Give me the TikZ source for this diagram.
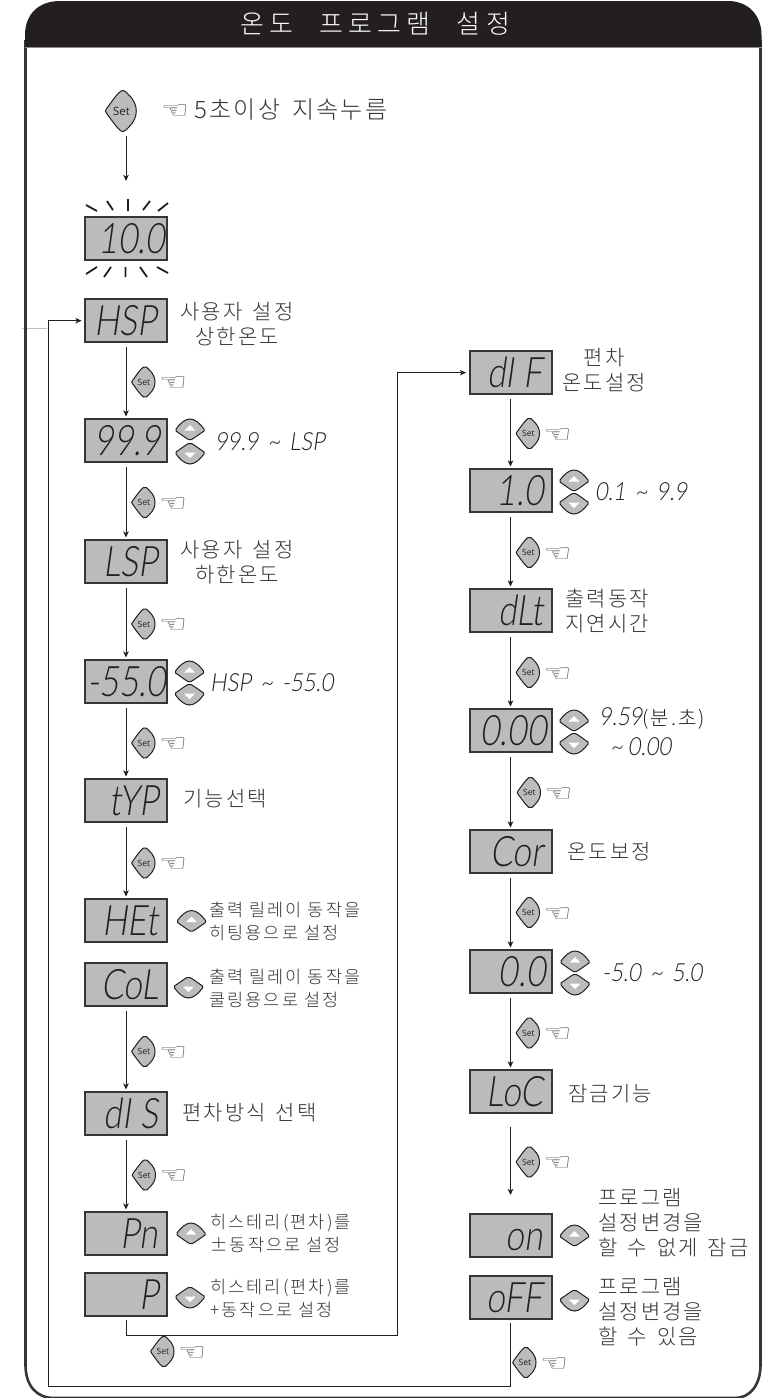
\documentclass[tikz,border=0pt]{standalone}
\usepackage{fontspec}
\usetikzlibrary{arrows.meta}
\newfontfamily\krf[LetterSpace=10,WordSpace=1.5]{Noto Sans CJK KR Light}
\newfontfamily\krs[LetterSpace=12,WordSpace=1]{Noto Sans CJK KR Light}
\newfontfamily\krt[LetterSpace=20,WordSpace=2.4]{Noto Sans CJK KR Light}
\newfontfamily\segf[FakeSlant=0.14,FakeStretch=0.8]{Lato Light}
\newfontfamily\valf[FakeSlant=0.14,FakeStretch=0.88]{Lato Light}
\newfontfamily\keyf{Open Sans}
\newfontfamily\handf[FakeStretch=1.3]{DejaVu Sans}
\definecolor{lcdgray}{HTML}{B9BBBD}
\definecolor{keygray}{HTML}{BBBCBE}
\definecolor{ink}{HTML}{231F20}
\definecolor{txt}{HTML}{333333}
\tikzset{
  line/.style={draw=ink,line width=0.8pt},
  arr/.style={line,-{Stealth[length=6pt,width=5.5pt,inset=1.5pt]}},
  flow/.style={arr,shorten <=4pt,shorten >=1.5pt},
  lcd/.style={draw=ink!90,line width=2pt,fill=lcdgray,minimum width=82pt,minimum height=43.5pt,inner sep=0pt,text=ink},
  lab/.style={text=txt,inner sep=0pt,align=center,font=\krf\fontsize{21}{25}\selectfont},
  labl/.style={lab,align=left,anchor=west},
  labs/.style={labl,font=\krs\fontsize{17.5}{23}\selectfont},
  val/.style={text=ink,inner sep=0pt,anchor=west,font=\valf\fontsize{25}{26}\selectfont},
  hand/.style={text=black!70,inner sep=0pt,font=\handf\fontsize{24}{24}\selectfont},
  ray/.style={draw=ink,line width=1.8pt},
  setkey/.pic={
    \draw[draw=ink,line width=1pt,fill=keygray]
      (-11,-1.5) .. controls (-7,-7) and (-3,-13) .. (0,-15)
      .. controls (2,-16.5) and (4,-14) .. (6,-12)
      .. controls (10,-8) and (11.5,-4) .. (11.5,0)
      .. controls (11.5,4) and (10,8) .. (6,12)
      .. controls (4,14) and (2,16.5) .. (0,15)
      .. controls (-3,13) and (-7,7) .. (-11,1.5)
      .. controls (-12,0.5) and (-12,-0.5) .. (-11,-1.5) -- cycle;
    \node[transform shape,inner sep=0pt,text=ink,font=\keyf\fontsize{8.6}{9}\selectfont] (-t) at (0.4,0) {Set};
  },
  udkey/.pic={
    \draw[draw=ink,line width=1pt,fill=keygray]
      (-14,-0.5) .. controls (-10,-6) and (-5,-10.5) .. (0,-10.5)
      .. controls (5,-10.5) and (10,-6) .. (14,-0.5)
      .. controls (14.8,0.5) and (14.5,1) .. (14,1.5)
      .. controls (9,5) and (5,8) .. (1.5,10)
      .. controls (0.5,10.7) and (-0.5,10.7) .. (-1.5,10)
      .. controls (-5,8) and (-9,5) .. (-14,1.5)
      .. controls (-14.5,1) and (-14.8,0.5) .. (-14,-0.5) -- cycle;
    \fill[white] (-5.5,1) -- (5.5,1) -- (0,-4.5) -- cycle;
  },
}
\newcommand{\SetK}[3]{\pic (#1) at (#2,#3) {setkey};\node[hand] (#1h) at (#2+29.5,#3+2) {☜};}
\newcommand{\UpK}[3]{\pic (#1) at (#2,#3) {udkey};}
\newcommand{\DnK}[3]{\pic[yscale=-1] (#1) at (#2,#3) {udkey};}
% name, left, top, text, right pad
\newcommand{\Lcd}[5]{\node[lcd] (#1) at (#2+42,#3+22.7) {\makebox[82pt][r]{\segf\fontsize{42}{42}\selectfont\rule{0pt}{30pt}#4\hspace{#5pt}}};}
\newcommand{\Tl}{\hspace{9pt}\textasciitilde\hspace{9pt}}
\begin{document}
\begin{tikzpicture}[x=1pt,y=-1pt]
\useasboundingbox (0,0) rectangle (772,1398);
\fill[white] (0,0) rectangle (772,1398);
% frame
\draw[draw=black!25,line width=0.8pt] (22,328) -- (47,328);
\draw[draw=ink!90,line width=2.6pt]
  (25.5,40) -- (25.5,1365) .. controls (25.5,1385) and (36,1398) .. (54,1398)
  -- (735,1398) .. controls (750,1398) and (760.5,1385) .. (760.5,1365) -- (760.5,40);
\fill[ink] (25,47) -- (25,35) .. controls (25,15) and (38,1) .. (60,1) -- (728,1)
  .. controls (748,1) and (761.5,15) .. (761.5,35) -- (761.5,47) -- cycle;
\draw[draw=black!45,line width=0.8pt] (25,47.3) -- (761.5,47.3);
\node[inner sep=0pt,text=white,font=\krt\fontsize{26}{26}\selectfont] (title) at (375,24) {온도 프로그램 설정};

% left column displays
\Lcd{d10}{84}{216}{10.0}{2}
\Lcd{hsp}{84}{298}{HSP}{10}
\Lcd{n99}{84}{418}{99.9}{6}
\Lcd{lsp}{84}{539}{LSP}{9}
\Lcd{n55}{84}{659}{-55.0}{1}
\Lcd{typ}{84}{778}{tYP}{8}
\Lcd{het}{84}{898}{HEt}{9}
\Lcd{col}{84}{962}{CoL}{8}
\Lcd{dis}{84}{1091}{dI S}{9}
\Lcd{pn}{84}{1211}{Pn}{9}
\Lcd{pp}{84}{1272}{P}{8}
% right column displays
\Lcd{dif}{468.5}{350}{dI F}{9}
\Lcd{n10}{468.5}{468}{1.0}{8}
\Lcd{dlt}{468.5}{588}{dLt}{8}
\Lcd{n00}{468.5}{708}{0.00}{5}
\Lcd{cor}{468.5}{829}{Cor}{8}
\Lcd{n0}{468.5}{949}{0.0}{6}
\Lcd{loc}{468.5}{1069}{LoC}{8}
\Lcd{on}{468.5}{1213}{on}{9}
\Lcd{off}{468.5}{1275}{oFF}{9}

% top key
\pic[scale=1.33] (s0) at (121,111) {setkey};
\node[hand] (s0h) at (175,112) {☜};
\node[labl,font=\krf\fontsize{24}{24}\selectfont] (t0) at (194,110) {5초이상 지속누름};

% blink rays
\draw[ray] (86,205)--(97,211) (107,201)--(113,210) (128,199)--(128,211) (150,201)--(143,210) (168,203)--(158,211);
\draw[ray] (86,274)--(97,267) (104,277)--(111,267) (125.5,277)--(125.5,267) (147,277)--(140,267) (168,273)--(157,267);

% set keys, left
\SetK{s1}{143.5}{382}
\SetK{s2}{143.5}{502.5}
\SetK{s3}{143.5}{624}
\SetK{s4}{143.5}{743}
\SetK{s5}{143.5}{863}
\SetK{s6}{143.5}{1051.5}
\SetK{s7}{144}{1175}
\SetK{s8}{162.5}{1351.5}
% set keys, right
\SetK{r1}{528}{433.5}
\SetK{r2}{528}{552.5}
\SetK{r3}{528}{672.5}
\SetK{r4}{529}{792.5}
\SetK{r5}{528}{912.5}
\SetK{r6}{528}{1033}
\SetK{r7}{528}{1162}
\SetK{r8}{524.5}{1362.5}

% up / down keys
\UpK{u1}{190}{429.5}\DnK{v1}{190}{453.5}
\UpK{u2}{189.5}{671.5}\DnK{v2}{189.5}{694.5}
\UpK{u3}{191.5}{921}
\DnK{v3}{188.5}{987.5}
\UpK{u4}{191}{1233.5}
\DnK{v4}{190}{1297.5}
\UpK{u5}{574}{480.5}\DnK{v5}{574}{503.5}
\UpK{u6}{574}{720.5}\DnK{v6}{574}{743.5}
\UpK{u7}{575}{961.5}\DnK{v7}{575}{984.5}
\UpK{u8}{574.5}{1235.5}
\DnK{v8}{574.5}{1300.5}

% connectors
\draw[arr,shorten <=21pt,shorten >=35pt] (d10.north |- s0-t.south) -- (d10.north);
\draw[flow] (hsp) -- (n99);
\draw[flow] (n99) -- (lsp);
\draw[flow] (lsp) -- (n55);
\draw[flow] (n55) -- (typ);
\draw[flow] (typ) -- (het);
\draw[flow] (col) -- (dis);
\draw[flow] (dis) -- (pn);
\draw[flow] (dif) -- (n10);
\draw[flow] (n10) -- (dlt);
\draw[flow] (dlt) -- (n00);
\draw[flow] (n00) -- (cor);
\draw[flow] (cor) -- (n0);
\draw[flow] (n0) -- (loc);
\draw[arr,shorten <=13pt,shorten >=18pt] (loc.south) -- (on.north);
\coordinate (b1) at (397.5,1335);
\coordinate (b2) at (48,1386);
\draw[arr,shorten <=3pt,shorten >=2.5pt] (pp.south) |- (b1) |- (dif.west);
\draw[arr,shorten <=3pt,shorten >=2.5pt] (off.south) |- (b2) |- (hsp.west);

% labels, left
\node[lab] (l1) at (237,324) {사용자 설정\\상한온도};
\node[lab] (l2) at (237,562.5) {사용자 설정\\하한온도};
\node[val] (v01) at (215,442) {99.9\Tl LSP};
\node[val] (v02) at (210,683) {HSP\Tl -55.0};
\node[labl] (l3) at (183,799) {기능선택};
\node[labs] (l4) at (209,921.5) {출력 릴레이 동작을\\히팅용으로 설정};
\node[labs] (l5) at (209,988) {출력 릴레이 동작을\\쿨링용으로 설정};
\node[labl] (l6) at (182,1113) {편차방식 선택};
\node[labs] (l7) at (210,1233) {히스테리(편차)를\\±동작으로 설정};
\node[labs] (l8) at (210,1298.5) {히스테리(편차)를\\+동작으로 설정};
% labels, right
\node[lab] (r01) at (604,370) {편차\\온도설정};
\node[val] (v03) at (595,492) {0.1\Tl 9.9};
\node[lab] (r02) at (607,611.5) {출력동작\\지연시간};
\node[val] (v04) at (599,718) {9.59{\krf\fontsize{20}{25}\selectfont (분.초)}};
\node[val] (v05) at (610,747) {\textasciitilde\hspace{5pt}0.00};
\node[labl] (r03) at (567,852) {온도보정};
\node[val] (v06) at (602,973) {-5.0\Tl 5.0};
\node[labl] (r04) at (568,1094) {잠금기능};
\node[labl] (r05) at (598,1222.5) {프로그램\\설정변경을\\할 수 없게 잠금};
\node[labl] (r06) at (598,1312) {프로그램\\설정변경을\\할 수 있음};
\end{tikzpicture}
\end{document}
